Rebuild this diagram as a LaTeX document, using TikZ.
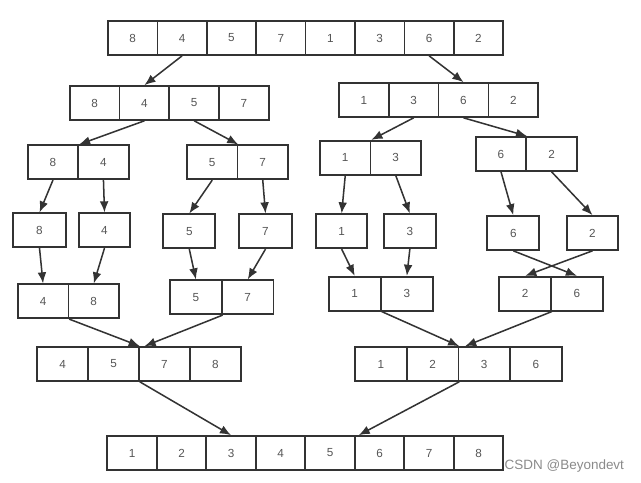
\documentclass[tikz,border=0pt]{standalone}
\usepackage{fontspec}
\setmainfont{Liberation Sans}
\usetikzlibrary{arrows.meta}
\definecolor{boxline}{HTML}{333333}
\definecolor{digit}{HTML}{555555}
\definecolor{marktext}{HTML}{8A8A8A}
\tikzset{
  cell/.style={draw=boxline, line width=1.4pt, minimum height=1.02cm, inner sep=0pt,
    text=digit, font=\fontsize{10}{12}\selectfont},
  link/.style={draw=boxline, line width=1.3pt, -{Latex[length=9.5pt,width=7.5pt]}}
}
% one array: name, left x, top y, cell width, values
\newcommand{\cellrow}[5]{%
  \foreach \v [count=\i] in {#5} {
    \node[cell, minimum width=#4*0.03cm] (#1-\i) at ({#2+(\i-0.5)*#4}, {#3+17}) {\v}; }}
\begin{document}
\begin{tikzpicture}[x=0.03cm, y=-0.03cm]
  \useasboundingbox (0,0) rectangle (641,483);
  % split
  \cellrow{top}{108}{21}{49.4}{8,4,5,7,1,3,6,2}
  \cellrow{h1}{69.7}{86}{49.8}{8,4,5,7}
  \cellrow{h2}{339}{83}{49.8}{1,3,6,2}
  \cellrow{q1}{27.7}{145.3}{50.5}{8,4}
  \cellrow{q2}{187}{145.3}{50.5}{5,7}
  \cellrow{q3}{320}{140.7}{50.5}{1,3}
  \cellrow{q4}{475.7}{137}{50.6}{6,2}
  \foreach \x/\y/\w/\v [count=\i] in {13.3/213.3/52.4/8, 78.7/213.3/51.6/4,
      163.3/214.3/52/5, 239.3/214.3/52.4/7, 316/214.3/51.3/1, 384/214.3/51.7/3,
      487.3/216/52/6, 566.7/216/51.6/2} {
    \node[cell, minimum width=\w*0.03cm] (s\i) at (\x+\w/2, \y+17) {\v}; }
  % merge
  \cellrow{m1}{17.7}{284.3}{50.7}{4,8}
  \cellrow{m2}{170}{280.3}{51.8}{5,7}
  \cellrow{m3}{328.7}{276.7}{52.1}{1,3}
  \cellrow{m4}{499.3}{276.7}{51.8}{2,6}
  \cellrow{n1}{37.3}{347}{50.85}{4,5,7,8}
  \cellrow{n2}{355}{347}{51.7}{1,2,3,6}
  \cellrow{out}{107.3}{436}{49.5}{1,2,3,4,5,6,7,8}

  \draw[link] (top-2.south) -- (h1-2.north);
  \draw[link] (top-7.south) -- (h2-3.north);
  \draw[link] (h1-2.south) -- (q1-1.north east);
  \draw[link] (h1-3.south) -- (q2-1.north east);
  \draw[link] (h2-2.south) -- (q3-1.north east);
  \draw[link] (h2-3.south) -- (q4-1.north east);
  \draw[link] (q1-1.south) -- (s1.north);
  \draw[link] (q1-2.south) -- (s2.north);
  \draw[link] (q2-1.south) -- (s3.north);
  \draw[link] (q2-2.south) -- (s4.north);
  \draw[link] (q3-1.south) -- (s5.north);
  \draw[link] (q3-2.south) -- (s6.north);
  \draw[link] (q4-1.south) -- (s7.north);
  \draw[link] (q4-2.south) -- (s8.north);
  \draw[link] (s1.south) -- (m1-1.north);
  \draw[link] (s2.south) -- (m1-2.north);
  \draw[link] (s3.south) -- (m2-1.north);
  \draw[link] (s4.south) -- (m2-2.north);
  \draw[link] (s5.south) -- (m3-1.north);
  \draw[link] (s6.south) -- (m3-2.north);
  \draw[link] (s7.south) -- (m4-2.north);
  \draw[link] (s8.south) -- (m4-1.north);
  \draw[link] (m1-1.south east) -- (n1-2.north east);
  \draw[link] (m2-1.south east) -- ([xshift=4pt]n1-2.north east);
  \draw[link] (m3-1.south east) -- (n2-2.north east);
  \draw[link] (m4-1.south east) -- ([xshift=5pt]n2-2.north east);
  \draw[link] (n1-2.south east) -- (out-3.north);
  \draw[link] (n2-2.south east) -- ([xshift=4pt]out-6.north west);

  \node[anchor=west, inner sep=0pt, text=marktext, font=\fontsize{11.5}{13}\selectfont]
    (wm) at (504.5,466.5) {CSDN @Beyondevt};
\end{tikzpicture}
\end{document}
